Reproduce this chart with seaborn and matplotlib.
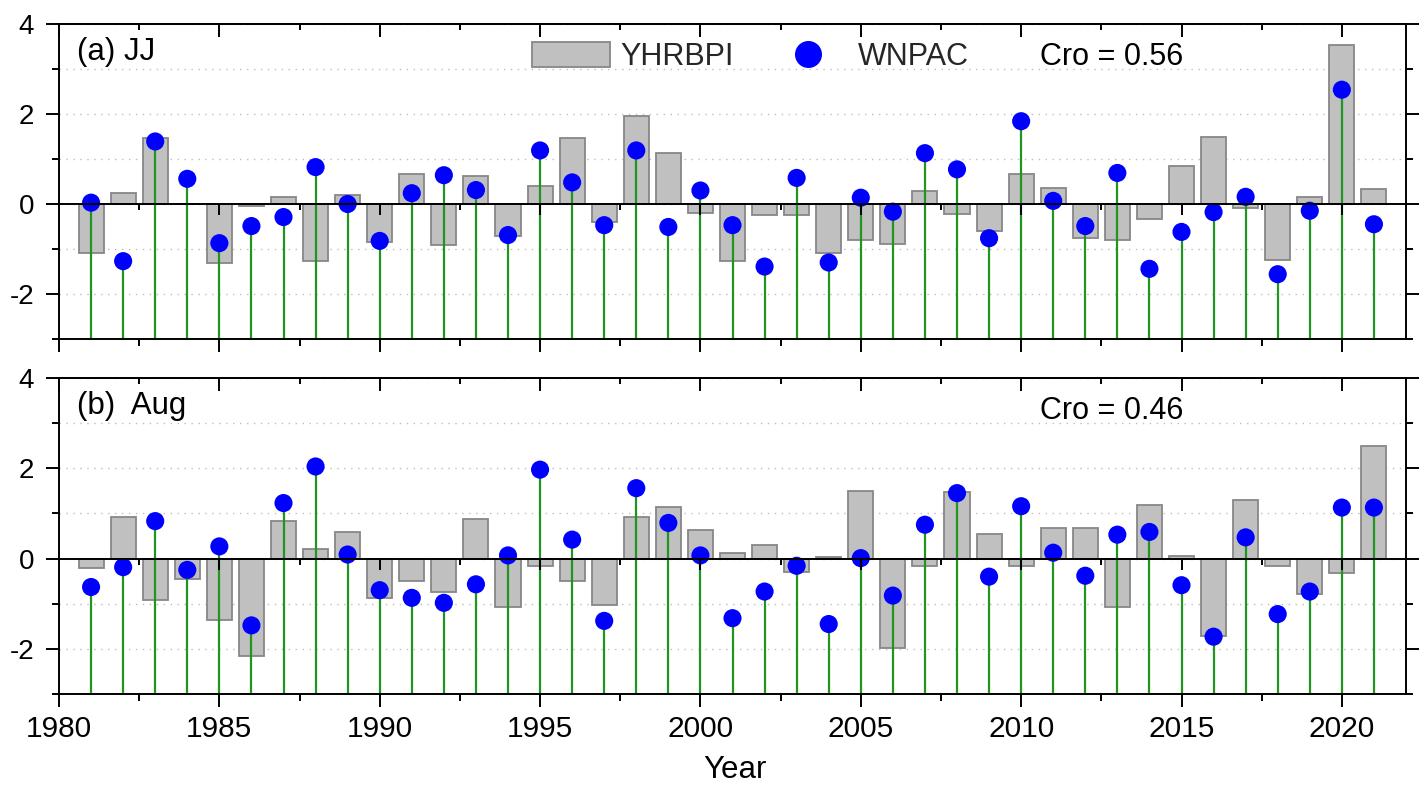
import numpy as np
import pandas as pd
import matplotlib
matplotlib.use("Agg")
import matplotlib.pyplot as plt
from matplotlib.ticker import MultipleLocator, NullFormatter
from matplotlib.patches import Patch
from matplotlib.lines import Line2D
import seaborn as sns

years = list(range(1981, 2022))

jj_yhrbpi = [-1.08, 0.25, 1.47, 0.00, -1.30, -0.04, 0.16, -1.26, 0.21, -0.84,
             0.67, -0.92, 0.62, -0.72, 0.41, 1.46, -0.39, 1.96, 1.13, -0.21,
             -1.26, -0.25, -0.25, -1.09, -0.80, -0.88, 0.30, -0.22, -0.59, 0.67,
             0.36, -0.75, -0.79, -0.33, 0.84, 1.50, -0.08, -1.25, 0.16, 3.54,
             0.33]
jj_wnpac = [0.03, -1.27, 1.39, 0.56, -0.87, -0.49, -0.29, 0.82, 0.00, -0.82,
            0.24, 0.64, 0.31, -0.69, 1.19, 0.48, -0.47, 1.19, -0.51, 0.30,
            -0.47, -1.39, 0.58, -1.30, 0.14, -0.17, 1.13, 0.77, -0.76, 1.84,
            0.07, -0.49, 0.69, -1.44, -0.62, -0.18, 0.16, -1.56, -0.15, 2.54,
            -0.45]
aug_yhrbpi = [-0.21, 0.93, -0.92, -0.45, -1.36, -2.16, 0.84, 0.21, 0.59, -0.88,
              -0.50, -0.73, 0.88, -1.08, -0.16, -0.50, -1.03, 0.93, 1.14, 0.64,
              0.13, 0.31, -0.29, 0.04, 1.50, -1.99, -0.16, 1.47, 0.55, -0.16,
              0.67, 0.67, -1.08, 1.18, 0.05, -1.71, 1.30, -0.16, -0.79, -0.32,
              2.50]
aug_wnpac = [-0.63, -0.19, 0.83, -0.25, 0.27, -1.48, 1.23, 2.04, 0.09, -0.70,
             -0.87, -0.98, -0.57, 0.07, 1.97, 0.42, -1.38, 1.56, 0.79, 0.07,
             -1.32, -0.73, -0.16, -1.45, 0.01, -0.82, 0.75, 1.45, -0.40, 1.16,
             0.13, -0.38, 0.53, 0.59, -0.59, -1.73, 0.47, -1.23, -0.73, 1.13,
             1.13]

panel_titles = ["(a) JJ", "(b)  Aug"]
cro_texts = ["Cro = 0.56", "Cro = 0.46"]
series_names = ["YHRBPI", "WNPAC"]

BAR_FACE = "#c0c0c0"
BAR_EDGE = "#878787"
DOT_COLOR = "#0000ff"
STEM_COLOR = "#1f961f"

sns.set_theme(style="white")
plt.rcParams['font.family'] = ['Liberation Sans', 'DejaVu Sans']
plt.rcParams['axes.unicode_minus'] = False

W, H = 1426, 787
fig = plt.figure(figsize=(W / 100, H / 100), dpi=100)
L, R = 59, 1406
ax1 = fig.add_axes([L / W, (H - 339) / H, (R - L) / W, (339 - 24) / H])
ax2 = fig.add_axes([L / W, (H - 694) / H, (R - L) / W, (694 - 378) / H])

datasets = [(jj_yhrbpi, jj_wnpac), (aug_yhrbpi, aug_wnpac)]
PX = 72 / 100  # points per pixel

for i, (ax, (bars, dots)) in enumerate(zip([ax1, ax2], datasets)):
    df = pd.DataFrame({"year": years, series_names[0]: bars, series_names[1]: dots})
    sns.barplot(data=df, x="year", y=series_names[0], native_scale=True, width=0.78,
                color=BAR_FACE, edgecolor=BAR_EDGE, linewidth=1.3,
                saturation=1, errorbar=None, ax=ax, zorder=2)
    ax.vlines(df["year"], -3, df[series_names[1]], color=STEM_COLOR, lw=1.6, zorder=3)
    sns.scatterplot(data=df, x="year", y=series_names[1], s=170, color=DOT_COLOR,
                    edgecolor="none", ax=ax, zorder=4, legend=False)
    ax.axhline(0, color="black", lw=1.4, zorder=5)

    ax.set_xlim(1980, 2022)
    ax.set_ylim(-3, 4)
    # ticks on the zero line
    maj = np.arange(1985, 2021, 5)
    mnr = np.arange(1982.5, 2021, 5)
    ax.plot(maj, np.zeros(len(maj)), ls="none", marker=3, markersize=11 * PX,
            color="black", mew=1.4, zorder=5)
    ax.plot(mnr, np.zeros(len(mnr)), ls="none", marker=3, markersize=6 * PX,
            color="black", mew=1.4, zorder=5)

    ax.xaxis.set_major_locator(MultipleLocator(5))
    ax.xaxis.set_minor_locator(MultipleLocator(2.5))
    ax.yaxis.set_major_locator(MultipleLocator(2))
    ax.yaxis.set_minor_locator(MultipleLocator(1))
    ax.set_axisbelow(True)
    ax.grid(axis="y", which="both", ls=(0, (1, 4)), color="#bdbdbd", lw=1.0)
    ax.grid(axis="x", visible=False)
    for s in ax.spines.values():
        s.set_color("black")
        s.set_linewidth(1.4)
        s.set_zorder(6)
    ax.tick_params(axis="y", which="both", left=True, right=True, direction="out",
                   labelsize=20, colors="black", width=1.4, pad=8.5)
    ax.tick_params(axis="y", which="major", length=13 * PX)
    ax.tick_params(axis="y", which="minor", length=7 * PX)
    ax.tick_params(axis="x", which="both", bottom=True, top=False, direction="out",
                   width=1.4, labelsize=21.5, colors="black", pad=6)
    ax.tick_params(axis="x", which="major", length=13 * PX)
    ax.tick_params(axis="x", which="minor", length=7 * PX)
    # top ticks point inward
    sec = ax.secondary_xaxis("top")
    sec.xaxis.set_major_locator(MultipleLocator(5))
    sec.xaxis.set_minor_locator(MultipleLocator(2.5))
    sec.xaxis.set_major_formatter(NullFormatter())
    sec.tick_params(axis="x", which="both", direction="in", width=1.4, colors="black")
    sec.tick_params(axis="x", which="major", length=13 * PX)
    sec.tick_params(axis="x", which="minor", length=6 * PX)
    sec.spines["top"].set_linewidth(1.4)

    ax.set_ylabel("")
    ax.set_xlabel("")
    ax.text(0.0135, 0.912, panel_titles[i], transform=ax.transAxes,
            fontsize=22.5, va="center", ha="left", color="black")
    ax.text(0.728, 0.894, cro_texts[i], transform=ax.transAxes,
            fontsize=22, va="center", ha="left", color="black")

ax1.tick_params(axis="x", labelbottom=False)

handles = [Patch(facecolor=BAR_FACE, edgecolor=BAR_EDGE, linewidth=1.3),
           Line2D([], [], ls="none", marker="o", markersize=27 * PX,
                  markerfacecolor=DOT_COLOR, markeredgecolor="none")]
leg = fig.legend(handles, series_names, loc="center left",
                 bbox_to_anchor=(532 / W, 1 - 57 / H), bbox_transform=fig.transFigure,
                 ncol=2, frameon=False, fontsize=22, handlelength=2.55,
                 handleheight=0.85, handletextpad=0.33, columnspacing=1.18,
                 borderpad=0, borderaxespad=0)

ax2.set_xlabel("Year", fontsize=22.5, color="black")
ax2.xaxis.set_label_coords((735 - L) / (R - L), (694 - 770) / (694 - 378))
ax2.xaxis.label.set_va("center")

fig.savefig("out.png", dpi=100, facecolor="white")
